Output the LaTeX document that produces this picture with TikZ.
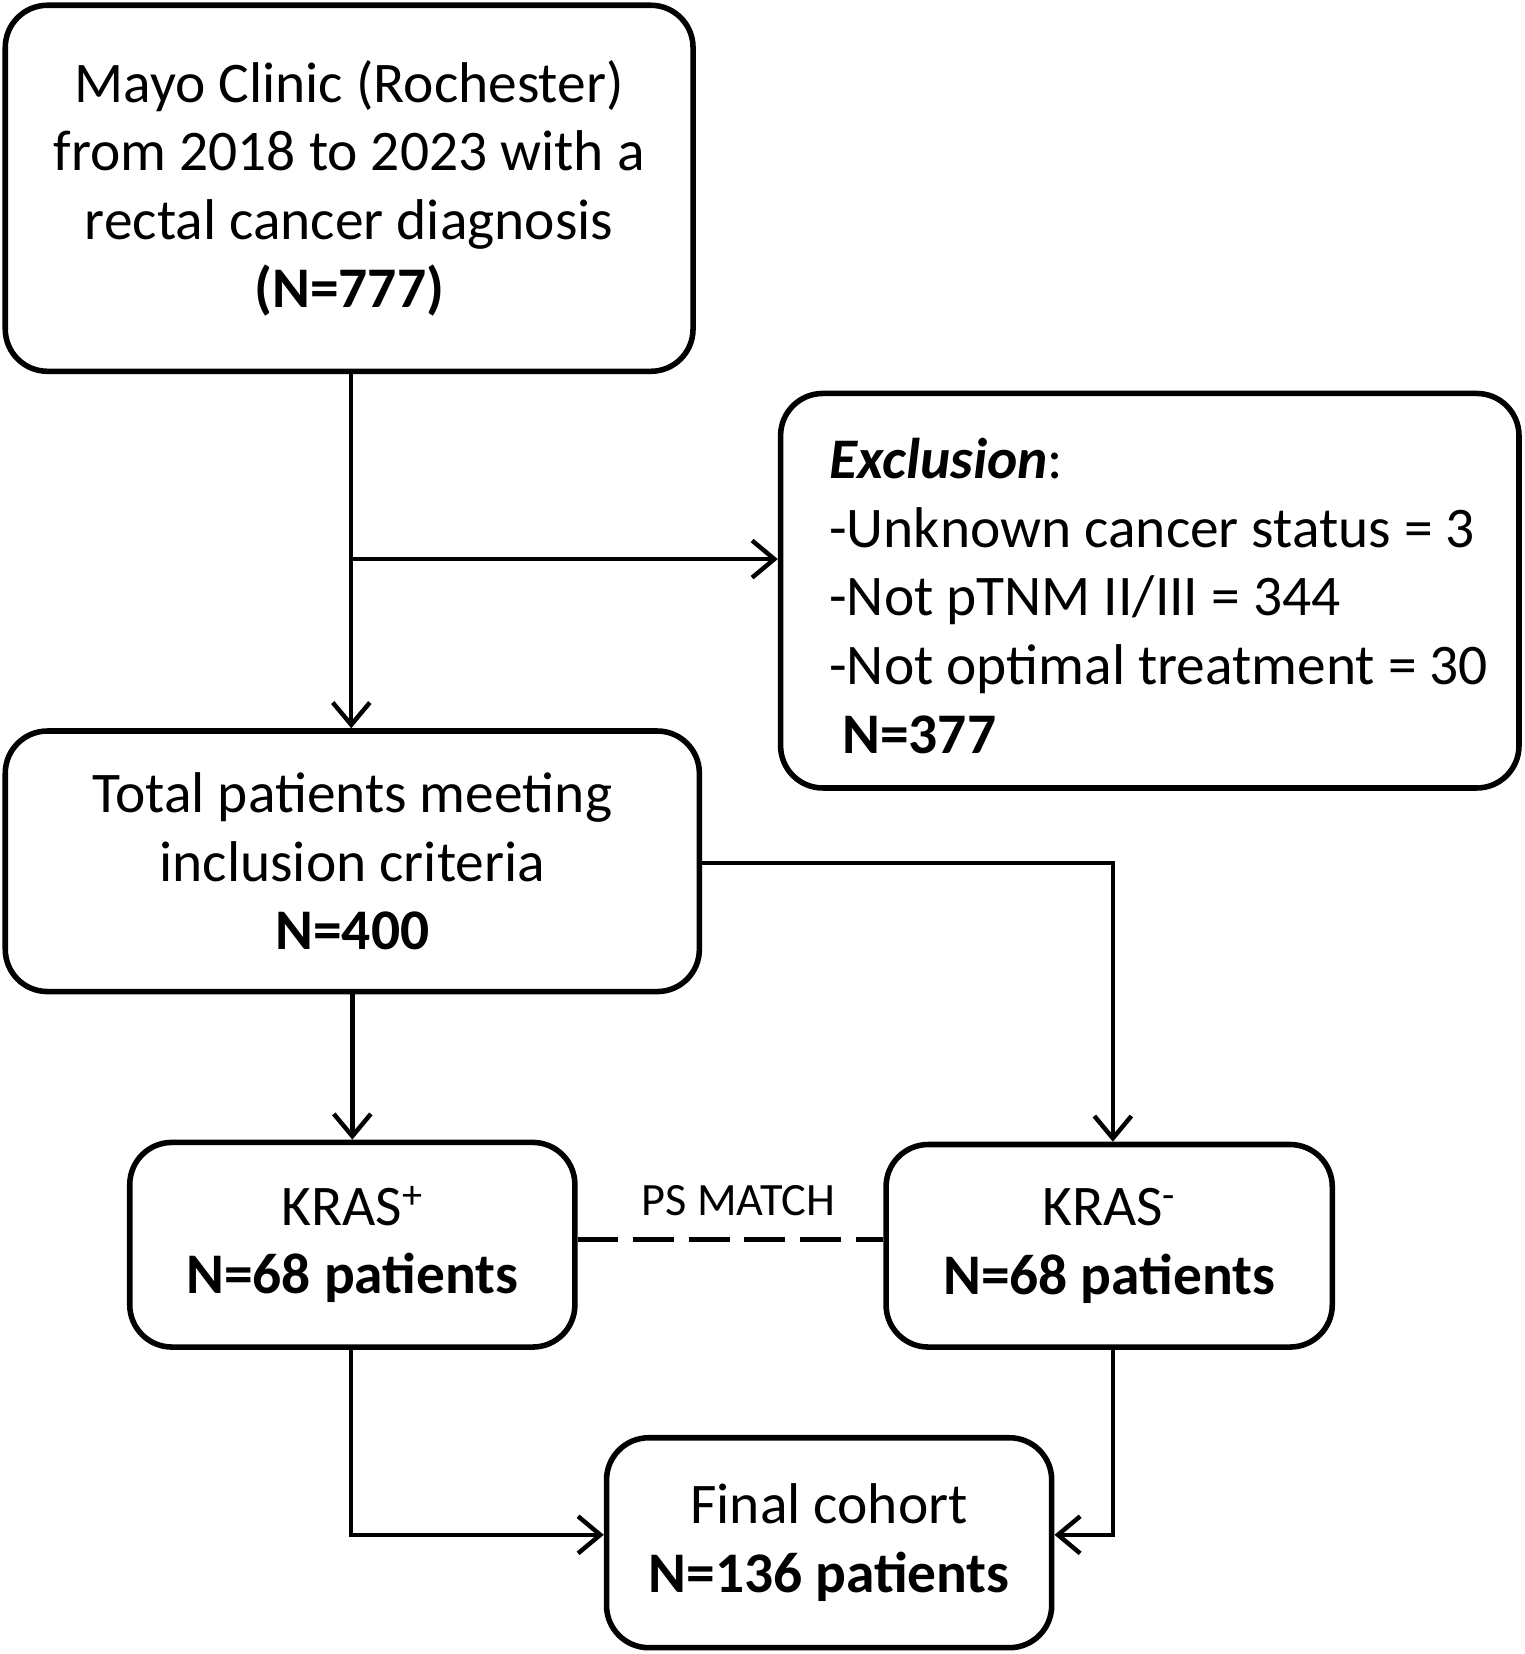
\documentclass[tikz,border=0pt]{standalone}
\usepackage{fontspec}
\setmainfont{Carlito}
\usetikzlibrary{arrows.meta}
\begin{document}
\begin{tikzpicture}[x=0.02cm,y=-0.02cm,
 box/.style={draw,line width=3pt,rounded corners=0.8cm,align=center,inner sep=0pt,font=\fontsize{31}{37}\selectfont},
 ar/.style={line width=2.4pt,-{Straight Barb[length=12pt,width=20pt,line width=2.4pt]}},
 ln/.style={line width=2.6pt}]
\useasboundingbox (0,0) rectangle (1445,1568);
\node[box,minimum width=652*0.02cm,minimum height=347*0.02cm] (top) at (331,178.5) {Mayo Clinic (Rochester)\\from 2018 to 2023 with a\\rectal cancer diagnosis\\\textbf{(N=777)}};
\node[box,minimum width=700*0.02cm,minimum height=374*0.02cm] (exc) at (1090,560) {};
\node[anchor=west,align=left,font=\fontsize{31}{37}\selectfont] (exct) at (780,565) {\textbf{\textit{Exclusion}}:\\-Unknown cancer status = 3\\-Not pTNM II/III = 344\\-Not optimal treatment = 30\\\ \textbf{N=377}};
\node[box,minimum width=658*0.02cm,minimum height=247*0.02cm] (tot) at (334,816.5) {Total patients meeting\\inclusion criteria\\\textbf{N=400}};
\node[box,minimum width=422*0.02cm,minimum height=194*0.02cm] (kp) at (334,1180) {KRAS\textsuperscript{+}\\\textbf{N=68 patients}};
\node[box,minimum width=423*0.02cm,minimum height=192*0.02cm] (km) at (1051.5,1181) {KRAS\textsuperscript{-}\\\textbf{N=68 patients}};
\node[box,minimum width=422*0.02cm,minimum height=199*0.02cm] (fin) at (786,1462.5) {Final cohort\\\textbf{N=136 patients}};
\coordinate (b) at (333,530);
\draw[ar] (top.south -| b) -- (tot.north -| b);
\draw[ar] (b) -- (exc.west |- b);
\draw[ar] (tot.east |- 0,818) -| (km.north -| 1055,0);
\draw[ar] (tot.south) -- (kp.north);
\draw[ln,dash pattern=on 22pt off 8pt] (kp.east |- 0,1175) -- (km.west |- 0,1175);
\node[font=\fontsize{25}{28}\selectfont] (ps) at (700,1138) {PS MATCH};
\draw[ar] (kp.south -| 333,0) |- (fin.west |- 0,1455);
\draw[ar] (km.south -| 1055,0) |- (fin.east |- 0,1455);
\end{tikzpicture}
\end{document}
